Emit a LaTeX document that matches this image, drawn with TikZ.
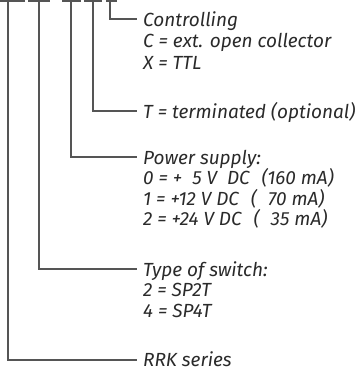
\documentclass[tikz,border=0pt]{standalone}
\usepackage{fontspec}
\setmainfont{Fira Sans}
\definecolor{linec}{HTML}{555555}
\definecolor{textc}{HTML}{2A2A2A}
\begin{document}
\begin{tikzpicture}[x=1bp,y=-1bp,
  conn/.style={draw=linec,line width=1.4bp},
  lbl/.style={anchor=base west,inner sep=0pt,text=textc,font=\fontsize{19bp}{21bp}\selectfont\itshape}]
\useasboundingbox (0,0) rectangle (361,371);
% top T bars
\coordinate (b1l) at (0,1);   \coordinate (b1r) at (25,1);
\coordinate (b2l) at (28,1);  \coordinate (b2r) at (50,1);
\coordinate (b3l) at (62,1);  \coordinate (b3r) at (81,1);
\coordinate (b4l) at (84,1);  \coordinate (b4r) at (102,1);
\coordinate (b5l) at (106,1); \coordinate (b5r) at (117,1);
\coordinate (s1) at (8,1);
\coordinate (s2) at (39,1);
\coordinate (s3) at (71,1);
\coordinate (s4) at (93,1);
\coordinate (s5) at (110,1);
\foreach \i in {1,...,5} {\draw[conn] (b\i l) -- (b\i r);}
% labels
\def\lx{143}
\node[lbl] (ctl) at (\lx,26) {Controlling};
\node[lbl] (ctlC) at (\lx,47.5) {C = ext. open collector};
\node[lbl] (ctlX) at (\lx,69) {X = TTL};
\node[lbl] (term) at (\lx,118) {T = terminated (optional)};
\node[lbl] (pow) at (\lx,164) {Power supply:};
\node[lbl] (pow0) at (\lx,184.5) {0 = +\hspace{2bp}\hphantom{1}5 V\hspace{5bp} DC\hspace{7bp} (160 mA)};
\node[lbl] (pow1) at (\lx,205) {1 = +12 V DC\hspace{7bp} (\hspace{3bp}\hphantom{1}70 mA)};
\node[lbl] (pow2) at (\lx,225.5) {2 = +24 V DC\hspace{7bp} (\hspace{3bp}\hphantom{1}35 mA)};
\node[lbl] (typ) at (\lx,276) {Type of switch:};
\node[lbl] (typ2) at (\lx,296.5) {2 = SP2T};
\node[lbl] (typ4) at (\lx,317) {4 = SP4T};
\node[lbl] (rrk) at (\lx,366.5) {RRK series};
% connectors
\draw[conn] (s5) |- ([xshift=-6bp,yshift=7bp]ctl.base west);
\draw[conn] (s4) |- ([xshift=-6bp,yshift=7bp]term.base west);
\draw[conn] (s3) |- ([xshift=-6bp,yshift=7bp]pow.base west);
\draw[conn] (s2) |- ([xshift=-6bp,yshift=7bp]typ.base west);
\draw[conn] (s1) |- ([xshift=-6bp,yshift=6.5bp]rrk.base west);
\end{tikzpicture}
\end{document}
